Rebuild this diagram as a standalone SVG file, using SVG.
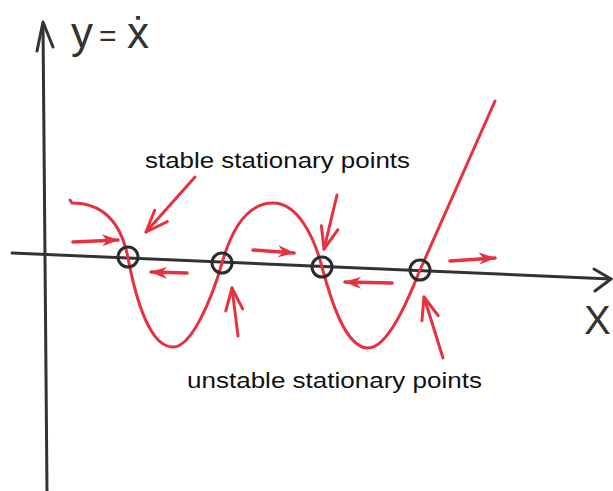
<svg xmlns="http://www.w3.org/2000/svg" width="613" height="491" viewBox="0 0 613 491">
<style>
.ax{stroke:#333;stroke-width:3;fill:none;stroke-linecap:round;stroke-linejoin:round}
.red{stroke:#e5323e;stroke-width:3;fill:none;stroke-linecap:round}
.flow{stroke:#e5323e;stroke-width:3.5;fill:none;stroke-linecap:round;marker-end:url(#fh)}
.lab{stroke:#e5323e;stroke-width:3;fill:none;stroke-linecap:round;marker-end:url(#oh)}
.pt{stroke:#2b2b2b;stroke-width:3;fill:none}
.txt{font-family:"Liberation Sans",Arial,sans-serif;font-size:22px;fill:#111}
.hand{font-family:"Liberation Sans","DejaVu Sans",sans-serif;fill:#333}
</style>
<defs>
<marker id="fh" markerUnits="userSpaceOnUse" markerWidth="20" markerHeight="14" refX="0" refY="0" viewBox="-16 -7 18 14" orient="auto" overflow="visible">
<path d="M1,0 L-16,-6.5 L-11,0 L-16,5.5 Z" fill="#e5323e"/>
</marker>
<marker id="oh" markerUnits="userSpaceOnUse" markerWidth="30" markerHeight="24" refX="0" refY="0" viewBox="-26 -12 28 24" orient="auto" overflow="visible">
<path d="M0,0 L-22,-9 M0,0 L-22,8" stroke="#e5323e" stroke-width="3" stroke-linecap="round" fill="none"/>
</marker>
</defs>
<g id="axes">
<path class="ax" d="M47,491 L43,24"/>
<path class="ax" d="M37,51 L43,22 L53,47"/>
<path class="ax" d="M12,253 L611,279"/>
<path class="ax" d="M594,269 L611,279 L595,291"/>
<text class="hand" x="71" y="48" font-size="44"><tspan x="71">y</tspan><tspan x="99" y="46" font-size="30">=</tspan><tspan x="127" y="48">ẋ</tspan></text>
<text class="hand" x="584" y="334" font-size="40">X</text>
</g>
<g id="curve">
<path class="red" d="M70,200 L72,203 C102,203 121,222 128,258 C136,300 150,347 173,347 C192,347 212,298 222,263 C232,228 248,203 273,203 C298,203 314,237 322,267 C330,297 345,348 368,348 C388,348 408,300 420,270 L495,101"/>
</g>
<g id="points">
<circle id="p1" class="pt" cx="128" cy="257" r="10"/>
<circle id="p2" class="pt" cx="222" cy="263" r="10"/>
<circle id="p3" class="pt" cx="322" cy="267" r="10"/>
<circle id="p4" class="pt" cx="420" cy="270" r="10"/>
</g>
<g id="connectors">
<path class="flow" d="M73,242 L118,240"/>
<path class="flow" d="M187,273 L151,272"/>
<path class="flow" d="M253,250 L294,253"/>
<path class="flow" d="M392,283 L345,282"/>
<path class="flow" d="M450,261 L495,258"/>
<path class="lab" d="M195,177 L146,232"/>
<path class="lab" d="M337,195 L324,249"/>
<path class="lab" d="M238,336 L232,288"/>
<path class="lab" d="M443,358 L424,297"/>
</g>
<g id="labels">
<text class="txt" x="145" y="168" textLength="265" lengthAdjust="spacingAndGlyphs">stable stationary points</text>
<text class="txt" x="187" y="388" textLength="295" lengthAdjust="spacingAndGlyphs">unstable stationary points</text>
</g>
</svg>
